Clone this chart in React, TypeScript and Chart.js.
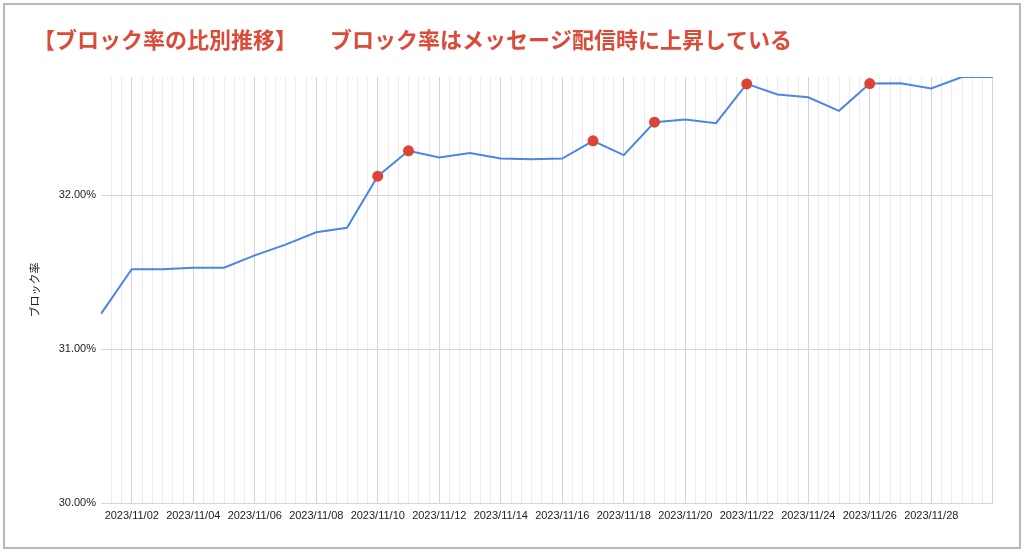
import React, { useEffect, useRef } from 'react';
import { Chart, registerables } from 'chart.js';

Chart.register(...registerables);

const chartTitle = '【ブロック率の比別推移】　　ブロック率はメッセージ配信時に上昇している';
const yAxisTitle = 'ブロック率';

const dates = [
  '2023/11/01', '2023/11/02', '2023/11/03', '2023/11/04', '2023/11/05',
  '2023/11/06', '2023/11/07', '2023/11/08', '2023/11/09', '2023/11/10',
  '2023/11/11', '2023/11/12', '2023/11/13', '2023/11/14', '2023/11/15',
  '2023/11/16', '2023/11/17', '2023/11/18', '2023/11/19', '2023/11/20',
  '2023/11/21', '2023/11/22', '2023/11/23', '2023/11/24', '2023/11/25',
  '2023/11/26', '2023/11/27', '2023/11/28', '2023/11/29', '2023/11/30',
];

const blockRate = [
  31.23, 31.52, 31.52, 31.53, 31.53,
  31.61, 31.68, 31.76, 31.79, 32.125,
  32.29, 32.247, 32.275, 32.24, 32.235,
  32.24, 32.355, 32.262, 32.476, 32.494,
  32.47, 32.725, 32.656, 32.638, 32.55,
  32.727, 32.73, 32.695, 32.77, 32.77,
];

const messageDays = ['2023/11/10', '2023/11/11', '2023/11/17', '2023/11/19', '2023/11/22', '2023/11/26'];

const yTicks = [30, 31, 32];
const yMin = 30;
const yMax = 32.77;
const subdivisionsPerDay = 3;
const lastLabelledDay = '2023/11/28';

const LINE_COLOR = '#4a86e8';
const DOT_COLOR = '#db4437';
const TITLE_COLOR = '#db4b38';
const TEXT_COLOR = '#222222';
const TICK_FONT = "'Liberation Sans', Arial, sans-serif";
const JP_FONT = "'Noto Sans CJK JP', 'Noto Sans', sans-serif";

export default function App() {
  const canvasRef = useRef<HTMLCanvasElement | null>(null);

  useEffect(() => {
    const canvas = canvasRef.current;
    if (!canvas) return;
    const lastLabelIndex = dates.indexOf(lastLabelledDay);
    const nDays = dates.length;
    const chart = new Chart(canvas, {
      type: 'line',
      data: {
        datasets: [
          {
            label: yAxisTitle,
            data: blockRate.map((v, i) => ({ x: i, y: v })),
            borderColor: LINE_COLOR,
            borderWidth: 2,
            tension: 0,
            fill: false,
            pointRadius: (ctx: any) => (messageDays.includes(dates[ctx.dataIndex]) ? 5.5 : 0),
            pointBackgroundColor: DOT_COLOR,
            pointBorderColor: DOT_COLOR,
            pointBorderWidth: 0,
            pointHoverRadius: 0,
          },
        ],
      },
      options: {
        responsive: false,
        animation: false,
        events: [],
        layout: { padding: { left: 33, right: 31.25, top: 0, bottom: 0 } },
        plugins: {
          legend: { display: false },
          tooltip: { enabled: false },
          title: {
            display: true,
            text: chartTitle,
            align: 'start',
            color: TITLE_COLOR,
            font: { family: JP_FONT, size: 22, weight: 'bold', lineHeight: 1.2 },
            padding: { top: 26, bottom: 24.6 },
          },
        },
        scales: {
          x: {
            type: 'linear',
            min: 0,
            max: nDays - 1,
            offset: false,
            border: { display: false },
            afterBuildTicks: (scale: any) => {
              const n = (nDays - 1) * subdivisionsPerDay;
              const ticks = [];
              for (let k = 0; k <= n; k++) ticks.push({ value: k / subdivisionsPerDay });
              scale.ticks = ticks;
            },
            afterFit: (scale: any) => {
              scale.height = 53;
            },
            grid: {
              drawTicks: false,
              lineWidth: 1,
              color: (ctx: any) => {
                const k = ctx.index;
                if (k === 0) return 'rgba(0,0,0,0)';
                if (k % (2 * subdivisionsPerDay) === subdivisionsPerDay) return '#d3d3d3';
                return '#ececec';
              },
            },
            ticks: {
              autoSkip: false,
              maxRotation: 0,
              minRotation: 0,
              padding: 6,
              color: TEXT_COLOR,
              font: { family: TICK_FONT, size: 11 },
              callback: (_v: any, k: number) => {
                if (k % (2 * subdivisionsPerDay) !== subdivisionsPerDay) return '';
                const day = k / subdivisionsPerDay;
                if (day > lastLabelIndex) return '';
                return dates[day];
              },
            },
          },
          y: {
            type: 'linear',
            min: yMin,
            max: yMax,
            border: { display: false },
            afterBuildTicks: (scale: any) => {
              scale.ticks = yTicks.map((v) => ({ value: v }));
            },
            afterFit: (scale: any) => {
              scale.width = 68;
            },
            grid: {
              drawTicks: false,
              color: '#d6d6d6',
              lineWidth: 1,
            },
            ticks: {
              padding: 5,
              color: TEXT_COLOR,
              font: { family: TICK_FONT, size: 11 },
              callback: (v: any) => Number(v).toFixed(2) + '%',
            },
            title: {
              display: true,
              text: yAxisTitle,
              color: TEXT_COLOR,
              font: { family: JP_FONT, size: 11 },
              padding: { top: -5, bottom: 0 },
            },
          },
        },
      },
    });
    return () => chart.destroy();
  }, []);

  return (
    <div style={{ position: 'absolute', left: 0, top: 0, width: 1024, height: 556, background: '#fff' }}>
      <canvas ref={canvasRef} width={1024} height={556} style={{ display: 'block' }} />
      <div
        style={{
          position: 'absolute',
          left: 3,
          top: 3,
          width: 1018,
          height: 546,
          border: '2px solid #b8b8b8',
          boxSizing: 'border-box',
          pointerEvents: 'none',
        }}
      />
    </div>
  );
}
